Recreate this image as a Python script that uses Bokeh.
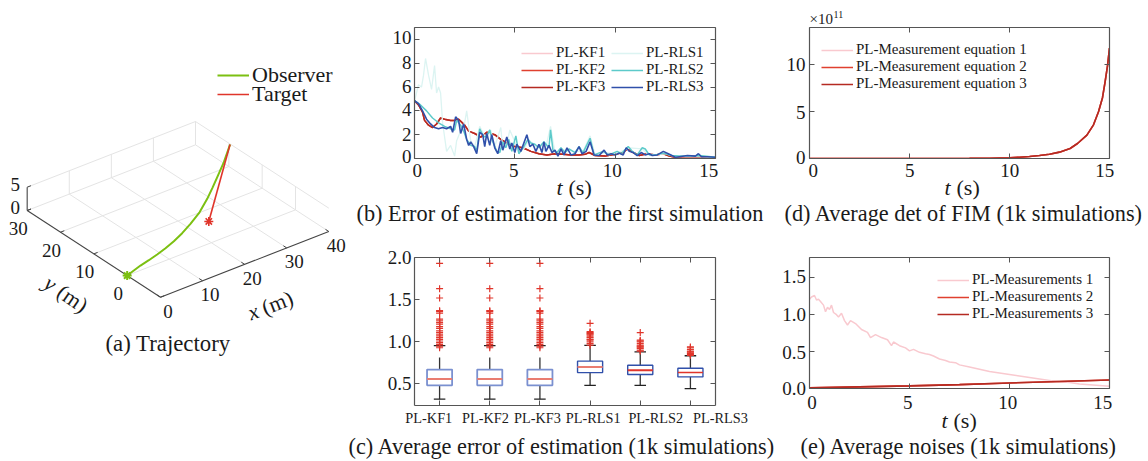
import numpy as np
from bokeh.embed import file_html
from bokeh.resources import INLINE
from bokeh.plotting import figure
from bokeh.layouts import row, column
from bokeh.models import Label, Legend, LegendItem, LinearAxis, FixedTicker, Range1d, PrintfTickFormatter

# ---------- data ----------
obs_x = [0.0, 4.26, 6.72, 9.25, 11.94, 14.78, 17.84, 21.2, 25.2, 29.4, 32.7, 35.8, 40.25, 45.2]
obs_y = [0.0, 1.38, 1.98, 2.68, 3.57, 4.65, 6.02, 7.78, 10.1, 13.1, 15.7, 18.2, 21.8, 26.2]
tgt_x = [24.47, 45.2]
tgt_y = [6.4, 26.2]
traj_x_ticks = [0, 10, 20, 30, 40]
traj_y_ticks = [-10, 0, 10, 20, 30]
traj_z_ticks = [0, 5]
time_ticks = [0, 5, 10, 15]
err_ticks = [0, 2, 4, 6, 8, 10]
fim_ticks = [0, 5, 10]
noise_ticks = [0.0, 0.5, 1.0, 1.5]

kf_t = [0, .2, .4, .5, .7, .9, 1.1, 1.3, 1.5, 1.8, 2.0, 2.2, 2.5, 2.7, 3.0, 3.3, 3.6, 4, 4.3, 4.6, 5, 5.4, 5.8, 6.2, 6.6, 7, 7.4, 7.8, 8.2, 8.5, 8.7, 9, 9.5, 10, 10.4, 10.6, 10.9, 11.2, 11.6, 12, 12.4, 12.7, 13, 13.5, 14, 14.5, 15]
kf_e = [4.85, 4.5, 3.9, 3.2, 2.8, 2.6, 2.9, 3.4, 3.3, 3.2, 3.2, 3.3, 2.8, 2.3, 2.1, 1.8, 2.2, 2.0, 1.6, 1.3, 1.0, .9, .6, .4, .3, .4, .35, .3, .3, .35, .5, .25, .2, .35, .5, .8, .5, .25, .4, .3, .4, .2, .1, .15, .15, .1, .05]
rls1_t = [0, .1, .2, .35, .45, .55, .7, .85, 1.0, 1.1, 1.2, 1.3, 1.4, 1.6, 1.8, 2, 2.1, 2.3, 2.5, 2.6, 2.8, 3, 3.25, 3.4, 3.6, 3.8, 4, 4.3, 4.4, 4.6, 4.75, 5, 5.2, 5.5, 5.7, 6, 6.3, 6.5, 6.78, 7, 7.5, 8, 8.4, 8.75, 9, 9.5, 10, 10.3, 10.7, 11.35, 11.6, 12, 12.5, 13, 14, 15]
rls1_e = [4.8, 5.5, 6.2, 6.0, 7, 8.4, 7.0, 5.8, 7.8, 5.5, 6, 5.5, 3, .6, 1.1, .2, 1.5, 2.3, 3, 4, 1.5, 1, 2.7, 2.2, 1.6, 2.4, 1, 2.6, .8, 1.2, 2.4, 1.4, .5, .9, 1.6, 1, 1.1, .6, 2.7, .5, .7, .6, .6, 1.9, .3, .5, .4, .6, .9, .8, .4, .3, .4, .15, .15, .1]
rls2_t = [0, .3, .6, .9, 1.2, 1.5, 1.8, 2, 2.1, 2.3, 2.45, 2.6, 2.8, 3, 3.1, 3.25, 3.45, 3.6, 3.75, 3.9, 4.1, 4.25, 4.4, 4.55, 4.7, 4.85, 5.05, 5.2, 5.45, 5.65, 5.8, 6, 6.2, 6.45, 6.7, 6.78, 6.9, 7.1, 7.3, 7.5, 7.7, 8, 8.2, 8.4, 8.75, 8.95, 9.4, 9.7, 10.1, 10.3, 10.65, 10.85, 11.1, 11.35, 11.5, 11.7, 12, 12.4, 12.8, 13.2, 13.8, 14.2, 15]
rls2_e = [4.85, 4.5, 4, 3.4, 3, 2.7, 2.5, 2.4, 3.2, 2.8, 2.3, 1.6, 1.1, 1.0, .6, 2.5, 1.8, 1.9, 2.4, 1.4, .6, .5, 1.4, .9, 1.6, .6, 1.9, .4, 1.0, 1.6, 1.3, 1.2, .9, 1.4, .9, 2.4, .7, .5, .9, .5, .8, .5, 1, .5, 1.7, .3, .6, .3, .6, .4, 1, .6, .3, .9, .8, .3, .3, .45, .25, .2, .2, .25, .1]
rls3_t = [0, .2, .4, .6, .8, 1.0, 1.2, 1.4, 1.6, 1.8, 1.9, 2.05, 2.2, 2.3, 2.45, 2.6, 2.7, 2.8, 2.95, 3.1, 3.25, 3.4, 3.5, 3.6, 3.75, 3.85, 4.0, 4.15, 4.3, 4.4, 4.6, 4.75, 4.85, 5.0, 5.1, 5.3, 5.6, 5.75, 5.9, 6.05, 6.2, 6.35, 6.45, 6.55, 6.7, 6.85, 7.0, 7.15, 7.3, 7.45, 7.6, 7.8, 8.0, 8.2, 8.35, 8.55, 8.75, 8.95, 9.2, 9.45, 9.6, 9.8, 10, 10.2, 10.4, 10.55, 10.7, 10.9, 11.1, 11.3, 11.5, 11.7, 11.85, 12.1, 12.4, 12.7, 13, 13.2, 13.6, 14, 14.15, 14.3, 14.6, 15]
rls3_e = [4.85, 4.6, 4.0, 3.3, 2.9, 2.6, 2.5, 2.6, 2.5, 2.7, 2.2, 3.5, 3.2, 2.1, 2.9, 1.6, 1.1, 1.4, 1.0, .4, 2.2, 2.0, 1.0, 2.1, 1.1, 2.0, .9, .4, 1.5, .7, 1.8, .8, 1.3, .5, 1.2, .6, 2.0, 1.0, 1.2, .6, 1.2, .5, 1.4, .6, 1.1, .5, .7, .2, .8, .3, .9, .3, .4, 1.0, .4, .6, 1.4, .3, .25, .7, .3, .4, .3, .45, .3, .9, .6, .5, .25, .5, .3, .4, .25, .3, .6, .35, .1, .15, .25, .2, .4, .15, .15, .1]

box_names = ["PL-KF1", "PL-KF2", "PL-KF3", "PL-RLS1", "PL-RLS2", "PL-RLS3"]
box_q1 = [.484, .484, .484, .635, .612, .584]
box_med = [.56, .56, .56, .703, .663, .635]
box_q3 = [.671, .671, .671, .771, .723, .687]
whisk_low = [.32, .32, .32, .484, .484, .444]
whisk_high = [.815, .815, .815, .958, .882, .835]
cap_high = [.954, .954, .954, .958, .882, .835]
kf_out = [.93, .95, .97, .99, 1.01, 1.03, 1.05, 1.07, 1.09, 1.11, 1.13, 1.16, 1.18, 1.21, 1.23, 1.25, 1.27, 1.34, 1.36, 1.37, 1.52, 1.63, 1.93]
rls1_out = [.96, .98, 1.0, 1.02, 1.03, 1.05, 1.06, 1.08, 1.09, 1.1, 1.11, 1.12, 1.22]
rls2_out = [.89, .9, .92, .93, .94, .95, .96, .98, 1.0, 1.01, 1.02, 1.11]
rls3_out = [.84, .85, .86, .87, .88, .89, .91, .93, .94]
outliers = [kf_out, kf_out, kf_out, rls1_out, rls2_out, rls3_out]

fim_t = [0, 5, 8, 9, 10, 10.5, 11, 11.5, 12, 12.5, 13.03, 13.4, 13.87, 14.2, 14.45, 14.65, 14.78, 14.9, 15]
fim_v = [0, 0, .01, .03, .08, .14, .22, .32, .45, .68, 1.07, 1.6, 2.5, 3.6, 5, 6.5, 8.2, 9.9, 11.8]

n1_t = [0, .1, .25, .35, .45, .55, .7, .8, .9, 1.0, 1.1, 1.2, 1.35, 1.45, 1.6, 1.75, 1.9, 2.05, 2.3, 2.6, 2.9, 3.05, 3.3, 3.6, 3.9, 4.1, 4.2, 4.5, 4.8, 5, 5.2, 5.5, 5.8, 6, 6.2, 6.5, 6.8, 7, 7.3, 7.5, 8, 8.5, 9, 9.5, 10, 10.5, 11, 11.5, 12, 12.5, 13, 13.5, 14, 14.5, 15]
n1_v = [1.21, 1.24, 1.26, 1.2, 1.21, 1.18, 1.13, 1.04, 1.1, 1.07, 1.13, 1.03, 1.0, .97, 1.02, .92, .86, .92, .88, .8, .76, .69, .73, .69, .66, .58, .63, .58, .55, .51, .53, .49, .47, .46, .44, .40, .38, .36, .35, .32, .29, .26, .23, .21, .19, .17, .15, .13, .11, .09, .08, .06, .05, .04, .03]
n2_t = [0, 2.5, 5, 7.5, 10, 12.5, 15]
n2_v = [.01, .022, .035, .053, .075, .095, .115]

# ---------- style ----------
SERIF = "Liberation Serif"
AX = "#555555"
TICK_PX = "19px"
CAP = 22.3
PINK, RED2, RED3 = "#f9c9cf", "#e0402f", "#b52a22"
CY1, CY2, BLUE = "#dcf4f2", "#5ccaca", "#3050aa"
GREEN = "#7cc012"
TRED = "#e0352b"
GRID = "#e4e4e4"
ORIGIN = {}
FRAME = {}


def strip(x0, y0, w, h):
    """A frameless figure whose canvas only carries text."""
    p = figure(width=w, height=h, x_range=Range1d(0, w), y_range=Range1d(h, 0),
               output_backend="svg", toolbar_location=None, tools="", min_border=0,
               x_axis_type=None, y_axis_type=None, frame_align=False)
    p.outline_line_color = None
    p.grid.visible = False
    p.background_fill_color = None
    p.border_fill_color = None
    ORIGIN[id(p)] = (x0, y0)
    FRAME[id(p)] = (x0, y0 + h)
    return p


def lab(p, x, y, text, size=19, style="normal", align="left", angle=0, color="#1a1a1a"):
    ox, oy = ORIGIN[id(p)]
    p.add_layout(Label(x=x - ox, y=y - oy, x_units="canvas", y_units="canvas", text=text,
                       text_font=SERIF, text_font_size=f"{size}px", text_font_style=style,
                       text_align=align, text_baseline="middle", angle=angle, text_color=color))


def panel(x0, y0, w, h, fl, fr, ft, fb, xr, yr, xticks, yticks, fmt=None, left_labels=False):
    p = figure(width=w, height=h, x_range=Range1d(*xr), y_range=Range1d(*yr),
               output_backend="svg", toolbar_location=None, tools="",
               min_border_left=fl - x0, min_border_right=x0 + w - fr,
               min_border_top=ft - y0, min_border_bottom=y0 + h - fb,
               x_axis_type=None, y_axis_type=None, frame_align=False)
    ORIGIN[id(p)] = (x0, y0)
    FRAME[id(p)] = (fl, fb)
    p.outline_line_color = None
    p.grid.visible = False
    p.background_fill_color = None
    p.border_fill_color = None
    for side, ticks, labelled in (("below", xticks, False), ("left", yticks, left_labels),
                                  ("above", xticks, False), ("right", yticks, False)):
        ax = LinearAxis(ticker=FixedTicker(ticks=ticks), axis_line_color=AX, axis_line_width=1.2,
                        major_tick_line_color=AX, major_tick_in=5, major_tick_out=0,
                        minor_tick_line_color=None,
                        major_label_standoff=3 if labelled else 0,
                        major_label_text_font=SERIF, major_label_text_color="#1a1a1a",
                        major_label_text_font_size=TICK_PX)
        if fmt and side == "left":
            ax.formatter = PrintfTickFormatter(format=fmt)
        if not labelled:
            ax.major_label_overrides = {float(t): "" for t in ticks}
        p.add_layout(ax, side)
    return p


def legend(p, items, page_x, page_top, ncols=1, gw=32, size=15, spacing=0, rh=18, lw=20):
    fl, fb = FRAME[id(p)]
    nrows = int(np.ceil(len(items) / ncols))
    p.add_layout(Legend(items=[LegendItem(label=l, renderers=[r]) for l, r in items],
                        location=(page_x - fl, fb - page_top - nrows * rh),
                        ncols=ncols, orientation="vertical", background_fill_alpha=0, border_line_color=None,
                        glyph_width=gw, glyph_height=10, label_text_font=SERIF, label_text_font_size=f"{size}px",
                        label_text_color="#1a1a1a", label_standoff=3, spacing=spacing, margin=0, padding=0,
                        label_height=rh - 2, label_width=lw, label_text_baseline="middle"))


def xlab(p, tx, sx, cy, size=22):
    lab(p, tx, cy, "t", size, "italic")
    lab(p, sx, cy, "(s)", size)


def time_labels(p, centres, cy):
    for tick, cx in zip(time_ticks, centres):
        lab(p, cx, cy, str(tick), 19, align="center")


def y_labels(p, ticks, centres, right, fmt="{:d}"):
    for tick, cy in zip(ticks, centres):
        lab(p, right, cy, fmt.format(tick), 19, align="right")


# ---------- (a) trajectory ----------
def proj(x, y, z=0):
    x, y, z = np.asarray(x, float), np.asarray(y, float), np.asarray(z, float)
    Y = y + 10
    return (160 + 4.208 * x - 3.333 * Y, 296.7 - 1.642 * x - 2.167 * Y - 4.667 * z)


pa = strip(0, 0, 348, 460)
xm, ym, zm = traj_x_ticks[-1], traj_y_ticks[-1], traj_z_ticks[-1]
y0 = traj_y_ticks[0]
grid_segs = []
for xv in traj_x_ticks[1:]:
    grid_segs.append(((xv, y0, 0), (xv, ym, 0)))
    grid_segs.append(((xv, ym, 0), (xv, ym, zm)))
for yv in traj_y_ticks[1:]:
    grid_segs.append(((0, yv, 0), (xm, yv, 0)))
    grid_segs.append(((xm, yv, 0), (xm, yv, zm)))
grid_segs += [((0, ym, zm), (xm, ym, zm)), ((xm, y0, zm), (xm, ym, zm))]
for a, b in grid_segs:
    sx, sy = proj([a[0], b[0]], [a[1], b[1]], [a[2], b[2]])
    pa.line(sx, sy, line_color=GRID, line_width=1)
for a, b in [((0, y0, 0), (xm, y0, 0)), ((0, y0, 0), (0, ym, 0)), ((0, ym, 0), (0, ym, zm))]:
    sx, sy = proj([a[0], b[0]], [a[1], b[1]], [a[2], b[2]])
    pa.line(sx, sy, line_color="#444444", line_width=1.1)
for xv in traj_x_ticks:
    sx, sy = proj([xv, xv], [y0, y0 + 1])
    pa.line(sx, sy, line_color="#444444", line_width=1)
for yv in traj_y_ticks:
    sx, sy = proj([0, 0.9], [yv, yv])
    pa.line(sx, sy, line_color="#444444", line_width=1)
for zv in traj_z_ticks:
    sx, sy = proj([0, 0.9], [ym, ym], [zv, zv])
    pa.line(sx, sy, line_color="#444444", line_width=1)
sx, sy = proj(obs_x, obs_y)
r_obs = pa.line(sx, sy, line_color=GREEN, line_width=2)
sx, sy = proj(tgt_x, tgt_y)
r_tgt = pa.line(sx, sy, line_color=TRED, line_width=1.6)
sx, sy = proj(obs_x[:1], obs_y[:1])
pa.scatter(sx, sy, marker="asterisk", size=9, line_color=GREEN, line_width=2)
sx, sy = proj(tgt_x[:1], tgt_y[:1])
pa.scatter(sx, sy, marker="asterisk", size=9, line_color=TRED, line_width=1.6)
for xv in traj_x_ticks:
    sx, sy = proj(xv, y0)
    lab(pa, float(sx) + 7.5, float(sy) + 14, str(xv), 19, align="center")
for yv in traj_y_ticks[1:]:
    sx, sy = proj(0, yv)
    lab(pa, float(sx) - 9, float(sy) + 18, str(yv), 19, align="center")
for zv in traj_z_ticks:
    sx, sy = proj(0, ym, zv)
    lab(pa, float(sx) - 12, float(sy) - 3, str(zv), 19, align="center")
lab(pa, 248, 313, "x", 22, "italic", angle=0.37)
lab(pa, 262, 308, "(m)", 22, angle=0.37)
lab(pa, 46, 280, "y", 22, "italic", angle=-0.6)
lab(pa, 59, 289, "(m)", 22, angle=-0.6)
lab(pa, 105, 342.7, "(a) Trajectory", 22.8)
legend(pa, [("Observer", r_obs)], 217, 70, size=22, lw=60)
legend(pa, [("Target", r_tgt)], 217, 89, size=22, lw=60)

# ---------- (b) error of estimation ----------
lb = strip(348, 0, 64, 200)
y_labels(lb, err_ticks, [156, 134, 109.3, 86, 62.3, 37.3], 411)
pb = panel(412, 0, 368, 159, 414, 715, 27, 158, (0, 15), (0, 11), time_ticks, err_ticks)
rb = [
    ("PL-KF1", pb.line(kf_t, kf_e, line_color=PINK, line_width=1.5)),
    ("PL-KF2", pb.line(kf_t, kf_e, line_color=RED2, line_width=1.5)),
    ("PL-KF3", pb.line(kf_t, kf_e, line_color=RED3, line_width=1.5)),
    ("PL-RLS1", pb.line(rls1_t, rls1_e, line_color=CY1, line_width=1.3)),
    ("PL-RLS2", pb.line(rls2_t, rls2_e, line_color=CY2, line_width=1.5)),
    ("PL-RLS3", pb.line(rls3_t, rls3_e, line_color=BLUE, line_width=1.6)),
]
legend(pb, rb, 521, 41, ncols=2, lw=55)
xb = strip(412, 159, 368, 41)
time_labels(xb, [416.7, 513.3, 611.7, 708.3], 170)
xlab(xb, 556, 568, 187)
cb = strip(348, 200, 432, 26)
lab(cb, 356, 213, "(b) Error of estimation for the first simulation", CAP)

# ---------- (c) boxplots ----------
pc = panel(348, 226, 432, 182, 414, 715, 257, 405, (.5, 6.5), (.245, 2.0), [1, 2, 3, 4, 5, 6], [.5, 1.0, 1.5, 2.0], fmt="%.1f", left_labels=True)
pos = [1, 2, 3, 4, 5, 6]
hw = .25
cw = .115
for i, q in enumerate(pos):
    faded = i < 3
    pc.segment(q, box_q3[i], q, whisk_high[i], line_color="#333333", line_width=1.3)
    pc.segment(q, box_q1[i], q, whisk_low[i], line_color="#333333", line_width=1.3)
    pc.segment(q - cw, cap_high[i], q + cw, cap_high[i], line_color="#222222", line_width=1.3)
    pc.segment(q - cw, whisk_low[i], q + cw, whisk_low[i], line_color="#222222", line_width=1.3)
    pc.scatter([q] * len(outliers[i]), outliers[i], marker="cross", size=7, line_color=TRED, line_width=1.2)
    pc.quad(left=q - hw, right=q + hw, bottom=box_q1[i], top=box_q3[i], fill_color="white",
            line_color="#7a90d0" if faded else BLUE, line_width=1.8 if faded else 1.4)
    pc.segment(q - hw, box_med[i], q + hw, box_med[i], line_color="#ea7d70" if i < 4 else TRED,
               line_width=2 if i < 5 else 1.5)
sc = strip(348, 408, 432, 52)
label_cx = [428.3, 485, 537, 592.7, 655.3, 720]
for name, cx in zip(box_names, label_cx):
    lab(sc, cx, 417, name, 14.3, align="center")
lab(sc, 348, 446, "(c) Average error of estimation (1k simulations)", CAP)

# ---------- (d) FIM ----------
ld = strip(780, 0, 26, 200)
y_labels(ld, fim_ticks, [156.7, 111.7, 64.3], 805)
st = strip(806, 0, 340, 26)
lab(st, 809, 18, "×10", 15)
lab(st, 833, 14, "11", 10)
pd_ = panel(806, 26, 340, 133, 809, 1109, 27, 158, (0, 15), (0, 14), time_ticks, fim_ticks)
rd = [
    ("PL-Measurement equation 1", pd_.line(fim_t, fim_v, line_color=PINK, line_width=1.6)),
    ("PL-Measurement equation 2", pd_.line(fim_t, fim_v, line_color=RED2, line_width=1.6)),
    ("PL-Measurement equation 3", pd_.line(fim_t, fim_v, line_color=RED3, line_width=1.6)),
]
legend(pd_, rd, 821, 38, lw=170)
xd = strip(806, 159, 340, 41)
time_labels(xd, [812.7, 909.3, 1009.3, 1104.3], 170)
xlab(xd, 944, 956, 187)
cd = strip(780, 200, 366, 26)
lab(cd, 784, 213, "(d) Average det of FIM (1k simulations)", CAP)

# ---------- (e) noises ----------
le = strip(780, 226, 26, 206)
y_labels(le, noise_ticks, [388.3, 351.7, 314, 276], 805.5, fmt="{:.1f}")
pe = panel(806, 226, 340, 163, 809, 1109, 257, 388, (0, 15), (0, 1.775), time_ticks, noise_ticks)
re = [
    ("PL-Measurements 1", pe.line(n1_t, n1_v, line_color=PINK, line_width=1.5)),
    ("PL-Measurements 2", pe.line(n2_t, n2_v, line_color=RED2, line_width=1.6)),
    ("PL-Measurements 3", pe.line(n2_t, n2_v, line_color=RED3, line_width=1.6)),
]
legend(pe, re, 937, 268, lw=125)
xe = strip(806, 389, 340, 43)
time_labels(xe, [811.5, 907.3, 1007.3, 1102.3], 401.7)
xlab(xe, 941, 953, 420)
ce = strip(780, 432, 366, 28)
lab(ce, 800, 446, "(e) Average noises (1k simulations)", CAP)

root = row(
    pa,
    column(row(lb, column(pb, xb, spacing=0), spacing=0), cb, pc, sc, spacing=0),
    column(row(ld, column(st, pd_, xd, spacing=0), spacing=0), cd,
           row(le, column(pe, xe, spacing=0), spacing=0), ce, spacing=0),
    spacing=0,
)
open("out.html", "w").write(file_html(root, INLINE))
